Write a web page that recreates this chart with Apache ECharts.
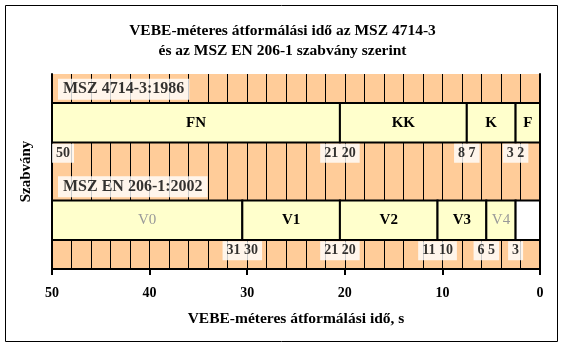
<!DOCTYPE html>
<html>
<head>
<meta charset="utf-8">
<script src="https://cdn.jsdelivr.net/npm/echarts@6/dist/echarts.min.js"></script>
<style>
  html, body { margin: 0; padding: 0; background: #fff; }
  #chart { width: 565px; height: 349px; }
</style>
</head>
<body>
<div id="chart"></div>
<script>
// Standards, listed bottom row first
const standards = ['MSZ EN 206-1:2002', 'MSZ 4714-3:1986'];

// MSZ 4714-3:1986 consistency classes and their edges (s)
const classes4714 = ['FN', 'KK', 'K', 'F'];
const edges4714 = [50, 20.5, 7.5, 2.5, 0];
const bounds4714 = [50, 20.5, 7.5, 2.5];
const boundLabels4714 = ['50', '21 20', '8 7', '3 2'];

// MSZ EN 206-1:2002 classes and their edges (s); last band is unclassified
const classes206 = ['V0', 'V1', 'V2', 'V3', 'V4', ''];
const edges206 = [50, 30.5, 20.5, 10.5, 5.5, 2.5, 0];
const bounds206 = [30.5, 20.5, 10.5, 5.5, 2.5];
const boundLabels206 = ['31 30', '21 20', '11 10', '6 5', '3'];

// Axis range and tick step
const axisMin = 0, axisMax = 50, majorStep = 10, gridStep = 2;

const SERIF = '"Liberation Serif", "Times New Roman", serif';
const PEACH = '#FFCC99';
const PALE = '#FFFFCC';
const GREY_CLASSES = ['V0', 'V4'];

function segments(classes, edges, row) {
  return classes.map((c, i) => ({
    value: [edges[i], edges[i + 1], row],
    name: c
  }));
}

const segData = segments(classes4714, edges4714, 1).concat(segments(classes206, edges206, 0));

function renderSeg(params, api) {
  const a = api.coord([api.value(0), api.value(2)]);
  const b = api.coord([api.value(1), api.value(2)]);
  const h = api.size([0, 1])[1] * 0.405;
  const name = segData[params.dataIndex].name;
  const grey = GREY_CLASSES.indexOf(name) >= 0;
  return {
    type: 'rect',
    shape: { x: Math.min(a[0], b[0]), y: a[1] - h / 2, width: Math.abs(b[0] - a[0]), height: h },
    style: { fill: name ? PALE : '#ffffff', stroke: '#000', lineWidth: 2 },
    textContent: {
      style: {
        text: name,
        fill: grey ? '#999999' : '#000',
        fontFamily: SERIF,
        fontWeight: grey ? 'normal' : 'bold',
        fontSize: 15
      }
    },
    textConfig: { position: 'inside' }
  };
}

const boundData = bounds4714.map((x, i) => ({
  value: [x, 1, boundLabels4714[i]],
  label: i === 0 && x === axisMax ? { align: 'left' } : {}
})).concat(bounds206.map((x, i) => ({ value: [x, 0, boundLabels206[i]] })));

const nameData = [
  { value: [axisMax, 1, standards[1]] },
  { value: [axisMax, 0, standards[0]] }
];

const chart = echarts.init(document.getElementById('chart'), null, { renderer: 'canvas' });
chart.setOption({
  animation: false,
  backgroundColor: '#fff',
  title: {
    text: 'VEBE-méteres átformálási idő az MSZ 4714-3\nés az MSZ EN 206-1 szabvány szerint',
    left: 'center',
    top: 16,
    textStyle: { fontFamily: SERIF, fontWeight: 'bold', fontSize: 15.5, lineHeight: 20, color: '#000' }
  },
  graphic: [{
    type: 'rect',
    shape: { x: 5.5, y: 5.5, width: 552, height: 336 },
    style: { fill: 'none', stroke: '#000', lineWidth: 1 },
    z: 100
  }],
  grid: { left: 52, right: 25, top: 74, bottom: 80, show: true, backgroundColor: PEACH, borderWidth: 0 },
  xAxis: [{
    type: 'value', min: axisMin, max: axisMax, interval: majorStep, inverse: true,
    name: 'VEBE-méteres átformálási idő, s', nameLocation: 'middle', nameGap: 42,
    nameTextStyle: { fontFamily: SERIF, fontWeight: 'bold', fontSize: 15.5, color: '#000' },
    axisLine: { show: true, lineStyle: { color: '#000', width: 2 } },
    axisTick: { show: true, length: 6, lineStyle: { color: '#000', width: 2 } },
    axisLabel: { margin: 17, fontFamily: SERIF, fontWeight: 'bold', fontSize: 14, color: '#000' },
    splitLine: { show: false }
  }, {
    type: 'value', min: axisMin, max: axisMax, interval: gridStep, inverse: true, position: 'bottom',
    axisLine: { show: false }, axisTick: { show: false }, axisLabel: { show: false },
    splitLine: { show: true, lineStyle: { color: '#000', width: 1 } }
  }],
  yAxis: [{
    type: 'category', data: standards, position: 'left',
    name: 'Szabvány', nameLocation: 'middle', nameGap: 18,
    nameTextStyle: { fontFamily: SERIF, fontWeight: 'bold', fontSize: 15, color: '#000' },
    axisLine: { show: true, onZero: false, lineStyle: { color: '#000', width: 2 } },
    axisTick: { show: false }, axisLabel: { show: false }, splitLine: { show: false }
  }, {
    type: 'category', data: standards, position: 'right',
    axisLine: { show: true, onZero: false, lineStyle: { color: '#000', width: 2 } },
    axisTick: { show: false }, axisLabel: { show: false }, splitLine: { show: false }
  }],
  series: [{
    type: 'custom',
    renderItem: renderSeg,
    encode: { x: [0, 1], y: 2 },
    data: segData,
    z: 5
  }, {
    type: 'scatter',
    symbolSize: 0,
    data: boundData,
    z: 6,
    label: {
      show: true, position: 'inside', offset: [0, 30.5],
      formatter: p => p.value[2],
      backgroundColor: '#fff', padding: [3, 4, 2, 4],
      fontFamily: SERIF, fontWeight: 'bold', fontSize: 14, color: '#000'
    }
  }, {
    type: 'scatter',
    symbolSize: 0,
    data: nameData,
    z: 6,
    label: {
      show: true, position: 'inside', align: 'left', offset: [6, -33.5],
      formatter: p => p.value[2],
      backgroundColor: '#fff', padding: [3, 5, 2, 5],
      fontFamily: SERIF, fontWeight: 'bold', fontSize: 16, color: '#000'
    }
  }]
});
</script>
</body>
</html>
